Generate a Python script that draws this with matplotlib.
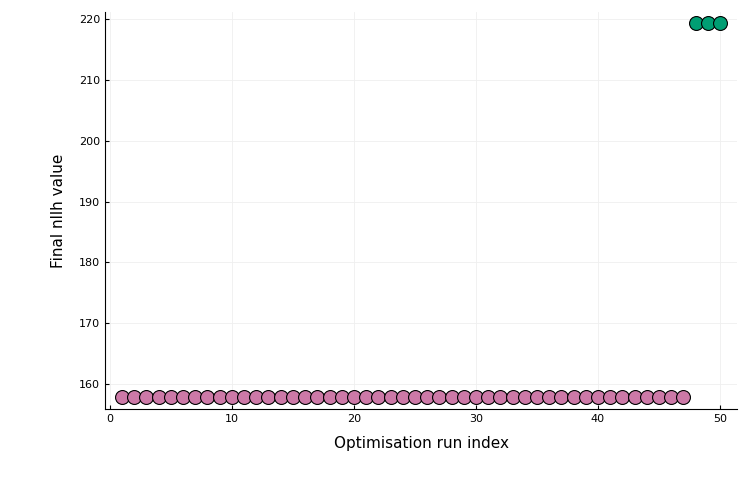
import matplotlib
matplotlib.use("Agg")
import matplotlib.pyplot as plt

# run indices and final nllh values
runs_low = list(range(1, 48))
nllh_low = [157.8] * 47
runs_high = [48, 49, 50]
nllh_high = [219.4, 219.4, 219.4]

fig = plt.figure(figsize=(7.5, 5), dpi=100)
ax = fig.add_axes([0.14, 0.182, 0.8427, 0.794])

ax.plot(runs_low, nllh_low, 'o', ms=10, mfc='#CC79A7', mec='black', mew=0.8)
ax.plot(runs_high, nllh_high, 'o', ms=10, mfc='#009E73', mec='black', mew=0.8)

ax.set_xlim(-0.4, 51.4)
ax.set_ylim(155.9, 221.2)
ax.set_xticks([0, 10, 20, 30, 40, 50])
ax.set_yticks([160, 170, 180, 190, 200, 210, 220])
ax.grid(True, color='#efefef', lw=0.6)
ax.set_axisbelow(True)
for s in ['top', 'right']:
    ax.spines[s].set_visible(False)
ax.tick_params(direction='in', labelsize=8, length=3)
ax.set_xlabel('Optimisation run index', fontsize=11, labelpad=9)
ax.set_ylabel('Final nllh value', fontsize=11, labelpad=9)

fig.savefig('out.png')
